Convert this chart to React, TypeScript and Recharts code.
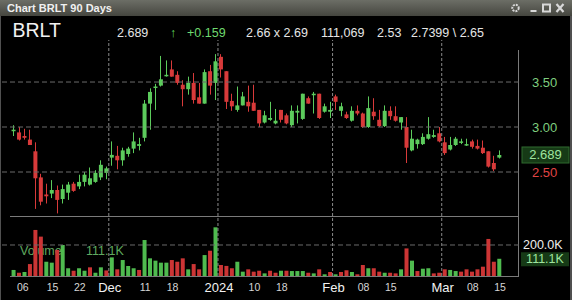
import React from 'react';
import { ComposedChart, Bar, Cell, XAxis, YAxis, ReferenceLine } from 'recharts';

// daily OHLC, Nov 06 2023 .. Mar 15 2024 (90 sessions)
const OPEN = [
  2.96, 2.94, 2.90, 2.86, 2.73, 2.44, 2.25, 2.26, 2.30, 2.20,
  2.27, 2.37, 2.34, 2.39, 2.36, 2.39, 2.44, 2.49, 2.66, 2.68,
  2.63, 2.70, 2.76, 2.79, 2.88, 3.26, 3.44, 3.46, 3.57, 3.64,
  3.58, 3.47, 3.42, 3.49, 3.33, 3.26, 3.62, 3.49, 3.78, 3.62,
  3.29, 3.19, 3.24, 3.28, 3.27, 3.19, 3.05, 3.08, 3.04, 3.19,
  3.13, 3.02, 3.16, 3.09, 3.32, 3.36, 3.37, 3.17, 3.17, 3.34,
  3.18, 3.14, 3.07, 3.18, 3.15, 3.00, 3.17, 3.08, 3.01, 3.18,
  3.12, 3.05, 3.00, 2.74, 2.81, 2.81, 2.87, 2.89, 2.93, 2.83,
  2.75, 2.80, 2.83, 2.80, 2.84, 2.79, 2.77, 2.73, 2.60, 2.66,
];
const HIGH = [
  3.02, 3.00, 2.98, 2.97, 2.83, 2.48, 2.37, 2.41, 2.35, 2.36,
  2.39, 2.39, 2.47, 2.50, 2.55, 2.52, 2.63, 2.56, 2.84, 2.79,
  2.77, 2.78, 2.94, 2.88, 3.30, 3.43, 3.48, 3.79, 3.74, 3.74,
  3.62, 3.52, 3.56, 3.60, 3.49, 3.64, 3.69, 3.81, 3.81, 3.62,
  3.37, 3.45, 3.39, 3.46, 3.47, 3.19, 3.18, 3.28, 3.20, 3.19,
  3.15, 3.24, 3.24, 3.37, 3.34, 3.39, 3.37, 3.26, 3.28, 3.36,
  3.27, 3.17, 3.23, 3.24, 3.16, 3.34, 3.32, 3.19, 3.24, 3.23,
  3.23, 3.11, 3.11, 2.97, 2.87, 2.93, 3.11, 2.97, 3.00, 2.89,
  2.89, 2.89, 2.87, 2.87, 2.86, 2.86, 2.85, 2.73, 2.68, 2.74,
];
const LOW = [
  2.90, 2.85, 2.86, 2.80, 2.09, 2.13, 2.15, 2.21, 2.04, 2.15,
  2.19, 2.28, 2.31, 2.34, 2.35, 2.38, 2.41, 2.42, 2.57, 2.53,
  2.57, 2.67, 2.71, 2.74, 2.84, 2.97, 3.19, 3.45, 3.56, 3.56,
  3.47, 3.23, 3.36, 3.26, 3.26, 3.26, 3.36, 3.30, 3.55, 3.20,
  3.18, 3.17, 3.24, 3.17, 3.18, 3.00, 3.04, 3.07, 3.03, 3.05,
  3.03, 3.00, 3.04, 3.08, 3.26, 3.15, 3.09, 3.16, 3.10, 3.19,
  3.12, 3.09, 3.06, 3.13, 2.99, 2.99, 3.08, 3.00, 3.00, 3.08,
  3.06, 2.97, 2.60, 2.73, 2.76, 2.80, 2.86, 2.88, 2.83, 2.69,
  2.74, 2.79, 2.81, 2.79, 2.76, 2.75, 2.70, 2.55, 2.51, 2.65,
];
const CLOSE = [
  2.97, 2.86, 2.88, 2.80, 2.43, 2.17, 2.23, 2.30, 2.19, 2.31,
  2.36, 2.29, 2.39, 2.47, 2.43, 2.49, 2.58, 2.54, 2.69, 2.63,
  2.74, 2.76, 2.84, 2.81, 3.26, 3.39, 3.45, 3.53, 3.58, 3.56,
  3.49, 3.42, 3.49, 3.30, 3.26, 3.61, 3.46, 3.73, 3.64, 3.28,
  3.23, 3.24, 3.34, 3.23, 3.18, 3.04, 3.13, 3.10, 3.07, 3.08,
  3.04, 3.18, 3.18, 3.37, 3.26, 3.37, 3.10, 3.23, 3.19, 3.28,
  3.23, 3.10, 3.18, 3.15, 3.00, 3.21, 3.12, 3.01, 3.18, 3.12,
  3.07, 3.11, 2.77, 2.87, 2.86, 2.89, 2.92, 2.91, 2.84, 2.71,
  2.80, 2.87, 2.84, 2.81, 2.78, 2.76, 2.71, 2.56, 2.53, 2.689,
];
// volume in thousands
const VOLUME = [
  39, 21, 26, 77, 297, 254, 92, 86, 168, 200,
  50, 34, 50, 34, 56, 21, 56, 36, 120, 43,
  103, 65, 50, 39, 232, 114, 99, 86, 86, 103,
  92, 114, 43, 77, 43, 135, 163, 314, 71, 65,
  50, 92, 28, 43, 28, 34, 17, 34, 21, 34,
  34, 32, 32, 32, 21, 17, 43, 11, 26, 11,
  26, 37, 26, 11, 71, 50, 50, 28, 21, 21,
  17, 43, 178, 99, 32, 47, 50, 17, 21, 43,
  39, 32, 28, 43, 28, 43, 60, 239, 92, 111.1,
];

// x-axis labels (session index; half steps are month boundaries)
const TICK_POS = [0, 7, 12, 17.5, 24, 29, 37.5, 44, 49, 58.5, 64, 69, 78.5, 84, 89];
const TICK_LABELS = ['06', '15', '22', 'Dec', '11', '18', '2024', '10', '18', 'Feb', '08', '15', 'Mar', '08', '15'];
const MONTH_LINES = [17.5, 37.5, 58.5, 78.5];
const PRICE_TICKS = [2.5, 2.689, 3.0, 3.5];
const PRICE_GRID = [2.5, 3.0, 3.5];
const LAST_PRICE = 2.689;
const VOL_TICKS = [111.1, 200];

const GREEN = '#5ccb5c';
const RED = '#d83a3a';
const VGREEN = '#4fbb4f';
const VRED = '#cc3535';
const FONT = '"Liberation Sans", Arial, sans-serif';

const data = OPEN.map((o, i) => ({
  i,
  open: o,
  high: HIGH[i],
  low: LOW[i],
  close: CLOSE[i],
  range: [LOW[i], HIGH[i]],
  volume: VOLUME[i],
  up: i === 0 ? true : CLOSE[i] >= CLOSE[i - 1],
}));

const X_DOMAIN = [-2.07, 92.66];

const Candle = (props: any) => {
  const { x, y, width, height, payload } = props;
  if (x == null || y == null) return null;
  const top = Math.min(y, y + height);
  const h = Math.abs(height);
  const span = payload.high - payload.low || 0.0001;
  const py = (v: number) => top + ((payload.high - v) / span) * h;
  const color = payload.close >= payload.open ? GREEN : RED;
  const bTop = py(Math.max(payload.open, payload.close));
  const bBot = py(Math.min(payload.open, payload.close));
  const cx = Math.round(x + width / 2 - 0.5);
  return (
    <g>
      <rect x={cx} y={top} width={1} height={Math.max(1, h)} fill={color} />
      <rect x={x} y={bTop} width={width} height={Math.max(1.5, bBot - bTop)} fill={color} />
    </g>
  );
};

const PriceTick = (props: any) => {
  const { y, payload } = props;
  const v = payload.value;
  if (v === LAST_PRICE) {
    return (
      <g>
        <rect x={522} y={y - 8} width={47} height={16} fill="#163a16" stroke="#2f6a2f" strokeWidth={1} />
        <text x={545.5} y={y + 4.5} textAnchor="middle" fill="#9fe59f" fontSize={13} fontFamily={FONT}>
          {v.toFixed(3)}
        </text>
      </g>
    );
  }
  return (
    <text x={532} y={y + 4.5} fill={v < LAST_PRICE ? '#e04545' : '#7fce7f'} fontSize={13} fontFamily={FONT}>
      {v.toFixed(2)}
    </text>
  );
};

const VolTick = (props: any) => {
  const { y, payload } = props;
  const v = payload.value;
  if (v === VOLUME[VOLUME.length - 1]) {
    return (
      <g>
        <rect x={521} y={y - 6.5} width={48} height={14} fill="#163a16" />
        <text x={545} y={y + 4.5} textAnchor="middle" fill="#9fe59f" fontSize={12.5} fontFamily={FONT}>
          {v.toFixed(1)}K
        </text>
      </g>
    );
  }
  return (
    <text x={523} y={y + 4.5} fill="#eeeeee" fontSize={12.5} fontFamily={FONT}>
      {v.toFixed(1)}K
    </text>
  );
};

// labels are placed from the plot's bottom edge (276px on the page)
const DateTick = (props: any) => {
  const { x, payload } = props;
  const k = TICK_POS.indexOf(payload.value);
  if (k < 0) return null;
  const label = TICK_LABELS[k];
  const month = !/^\d\d$/.test(label);
  // first label is nudged inside the plot like the original
  const dx = k === 0 ? 9.5 : 1;
  return (
    <text
      x={x + dx}
      y={60 + (month ? 15.5 : 15)}
      textAnchor="middle"
      fill={month ? '#f2f2f2' : '#d6d6d6'}
      fontSize={month ? 13 : 10.5}
      fontFamily={FONT}
    >
      {label}
    </text>
  );
};

const line = (s: React.CSSProperties): React.CSSProperties => ({ position: 'absolute', background: '#7a7a7a', ...s });

export default function App() {
  return (
    <div style={{ position: 'absolute', left: 0, top: 0, width: 572, height: 300, background: '#000', overflow: 'hidden', fontFamily: FONT }}>
      {/* window title bar */}
      <div style={{ position: 'absolute', left: 0, top: 0, width: 572, height: 16, background: 'linear-gradient(#6c6e66, #45463f)' }} />
      <div style={{ position: 'absolute', left: 0, top: 16, width: 1, height: 284, background: '#505050' }} />
      <div style={{ position: 'absolute', left: 570, top: 16, width: 2, height: 284, background: '#505050' }} />

      <svg width={572} height={44} style={{ position: 'absolute', left: 0, top: 0 }}>
        <text x={7} y={12} fill="#f0f0f0" fontSize={11} fontWeight="bold" fontFamily={FONT}>Chart BRLT 90 Days</text>
        <g stroke="#d8d8d8" fill="none">
          <circle cx={515.5} cy={8} r={3.2} strokeWidth={2} strokeDasharray="2 1" />
          <rect x={530.5} y={10} width={6} height={2} fill="#d8d8d8" stroke="none" />
          <rect x={543} y={4.5} width={7} height={7} strokeWidth={2} />
          <path d="M556.5 4 L563.5 12 M563.5 4 L556.5 12" strokeWidth={2.2} />
        </g>
        <text x={12.5} y={37} fill="#f2f2f2" fontSize={19.5} fontFamily={FONT}>BRLT</text>
        <g fontSize={12.5} fontFamily={FONT} fill="#e6e6e6">
          <text x={117} y={36.5}>2.689</text>
          <text x={170} y={36.5} fill="#5cd65c">↑</text>
          <text x={187} y={36.5} fill="#6fd86f">+0.159</text>
          <text x={246} y={36.5}>2.66  x  2.69</text>
          <text x={321} y={36.5}>111,069</text>
          <text x={377} y={36.5}>2.53</text>
          <text x={411} y={36.5}>2.7399 \ 2.65</text>
        </g>
      </svg>

      {/* frame lines */}
      <div style={line({ left: 10, top: 216, width: 509, height: 1 })} />
      <div style={line({ left: 518, top: 50, width: 1, height: 227 })} />
      <div style={line({ left: 10, top: 276, width: 509, height: 1 })} />

      {/* volume caption sits behind the volume bars */}
      <div style={{ position: 'absolute', left: 20, top: 244, fontSize: 12.5, color: '#5fa95f', whiteSpace: 'pre', lineHeight: '14px' }}>
        Volume{'       '}111.1K
      </div>

      <div style={{ position: 'absolute', left: 0, top: 40 }}>
        <ComposedChart width={572} height={176} data={data} margin={{ top: 0, right: 0, bottom: 0, left: 2 }}>
          <XAxis type="number" dataKey="i" domain={X_DOMAIN} allowDataOverflow hide />
          <YAxis
            orientation="right"
            width={53}
            domain={[2.011, 3.967]}
            allowDataOverflow
            ticks={PRICE_TICKS}
            interval={0}
            axisLine={false}
            tickLine={false}
            tick={<PriceTick />}
          />
          {PRICE_GRID.map((p) => (
            <ReferenceLine key={p} y={p} stroke="#6a6a6a" strokeDasharray="5 3" />
          ))}
          {MONTH_LINES.map((m) => (
            <ReferenceLine key={m} x={m} stroke="#8a8a8a" strokeDasharray="3 2" />
          ))}
          <Bar dataKey="range" barSize={4} shape={<Candle />} isAnimationActive={false} />
        </ComposedChart>
      </div>

      <div style={{ position: 'absolute', left: 0, top: 216 }}>
        <ComposedChart width={572} height={84} data={data} margin={{ top: 0, right: 0, bottom: 0, left: 2 }}>
          <XAxis
            type="number"
            dataKey="i"
            domain={X_DOMAIN}
            allowDataOverflow
            ticks={TICK_POS}
            interval={0}
            height={24}
            axisLine={false}
            tickLine={false}
            tick={<DateTick />}
          />
          <YAxis
            orientation="right"
            width={53}
            domain={[0, 387]}
            allowDataOverflow
            ticks={VOL_TICKS}
            interval={0}
            axisLine={false}
            tickLine={false}
            tick={<VolTick />}
          />
          <ReferenceLine y={200} stroke="#6a6a6a" strokeDasharray="5 3" />
          {MONTH_LINES.map((m) => (
            <ReferenceLine key={m} x={m} stroke="#8a8a8a" strokeDasharray="3 2" />
          ))}
          <Bar dataKey="volume" barSize={4} isAnimationActive={false}>
            {data.map((d) => (
              <Cell key={d.i} fill={d.up ? VGREEN : VRED} />
            ))}
          </Bar>
        </ComposedChart>
      </div>
    </div>
  );
}
